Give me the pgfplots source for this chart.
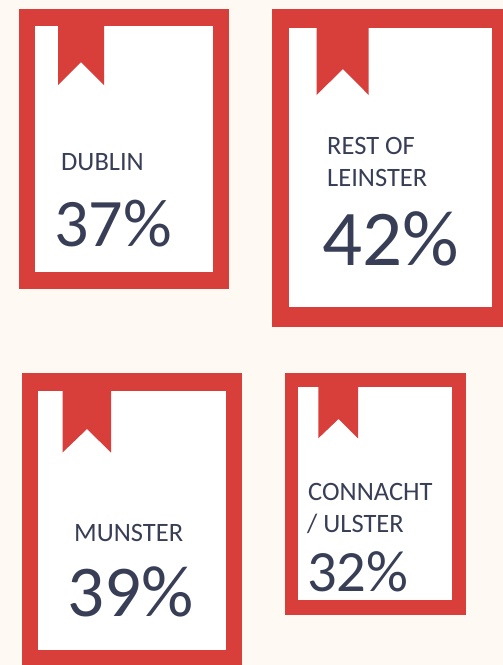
\documentclass[border=0pt]{standalone}
\usepackage{fontspec}
\setmainfont{Carlito}
\usepackage{pgfplots}
\pgfplotsset{compat=1.18}
\definecolor{bg}{HTML}{FEFAF3}
\definecolor{cardred}{HTML}{D83E3A}
\definecolor{ink}{HTML}{383E56}
\newcommand{\lab}[3]{\node[anchor=base west,inner sep=0pt,text=ink,font=\fontsize{26.5}{26.5}\selectfont] at (axis cs:#1,#2) {#3};}
\newcommand{\pct}[4]{\node[anchor=base west,inner sep=0pt,text=ink,font=\fontsize{#3}{#3}\selectfont] at (axis cs:#1,#2) {#4\%};}
\begin{document}
\begin{tikzpicture}
\begin{axis}[
    scale only axis,
    width=503pt,
    height=665pt,
    xmin=0, xmax=503,
    ymin=0, ymax=665,
    y dir=reverse,
    hide axis,
    every axis plot/.append style={draw=none},
]
% background
\addplot[fill=bg] coordinates {(0,0) (503,0) (503,665) (0,665)} --cycle;

% Dublin
\addplot[fill=cardred] coordinates {(19,8.7) (228.5,8.7) (228.5,288.5) (19,288.5)} --cycle;
\addplot[fill=white] coordinates {(34.5,25.5) (213,25.5) (213,272) (34.5,272)} --cycle;
\addplot[fill=cardred] coordinates {(58,25) (104,25) (104,85) (81,62) (58,85)} --cycle;

% Rest of Leinster
\addplot[fill=cardred] coordinates {(272,8.7) (503,8.7) (503,326.5) (272,326.5)} --cycle;
\addplot[fill=white] coordinates {(289.2,27.5) (492,27.5) (492,307) (289.2,307)} --cycle;
\addplot[fill=cardred] coordinates {(316.5,27) (368.7,27) (368.7,95) (343,69) (316.5,95)} --cycle;

% Munster
\addplot[fill=cardred] coordinates {(21.5,372.7) (242,372.7) (242,665) (21.5,665)} --cycle;
\addplot[fill=white] coordinates {(37.5,390.5) (226,390.5) (226,650) (37.5,650)} --cycle;
\addplot[fill=cardred] coordinates {(62.5,390) (111,390) (111,452.5) (87,429) (62.5,452.5)} --cycle;

% Connacht / Ulster
\addplot[fill=cardred] coordinates {(284.5,373) (465.5,373) (465.5,615) (284.5,615)} --cycle;
\addplot[fill=white] coordinates {(297.7,387.3) (452.3,387.3) (452.3,600) (297.7,600)} --cycle;
\addplot[fill=cardred] coordinates {(318.3,387) (358,387) (358,438.3) (338.5,419) (318.3,438.3)} --cycle;

\lab{61}{170}{DUBLIN}
\pct{54}{246}{68}{37}
\lab{327}{154}{REST OF}
\lab{327}{186}{LEINSTER}
\pct{322}{265}{79}{42}
\lab{74}{541.7}{MUNSTER}
\pct{67}{616.7}{73}{39}
\lab{308}{500}{CONNACHT}
\lab{307}{532}{/ ULSTER}
\pct{307}{591}{58.5}{32}
\end{axis}
\end{tikzpicture}
\end{document}
